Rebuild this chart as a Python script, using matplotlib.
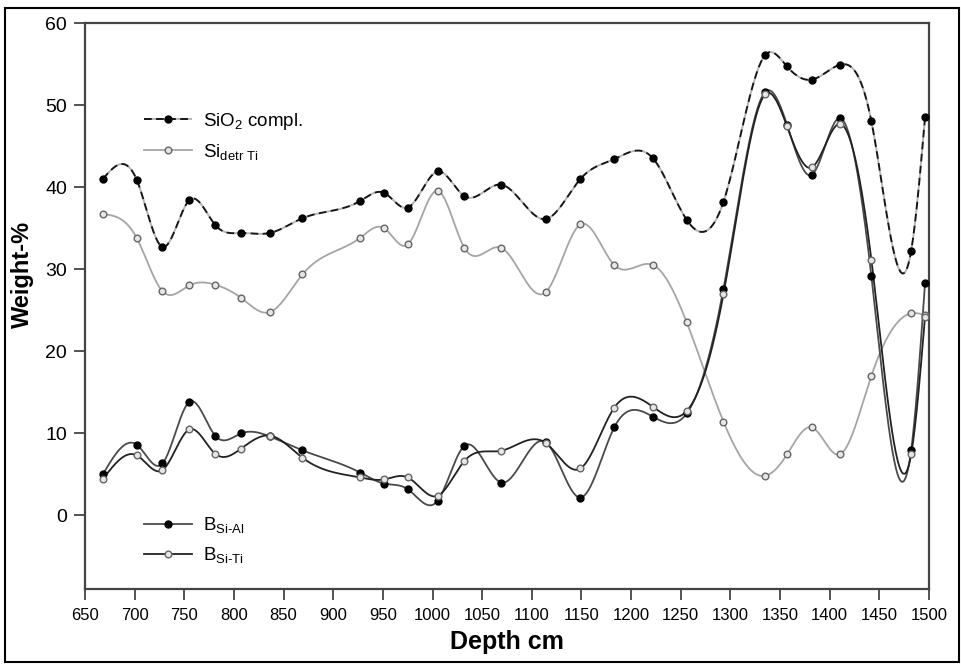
import numpy as np
import matplotlib
matplotlib.use('Agg')
import matplotlib.pyplot as plt
from matplotlib.lines import Line2D
from matplotlib.patches import Rectangle

plt.rcParams['font.family'] = ['Liberation Sans', 'DejaVu Sans']
plt.rcParams['mathtext.fontset'] = 'custom'
plt.rcParams['mathtext.rm'] = 'Liberation Sans'
plt.rcParams['mathtext.it'] = 'Liberation Sans:italic'
plt.rcParams['mathtext.bf'] = 'Liberation Sans:bold'

depth = [668, 702, 728, 755, 781, 807, 836, 869, 927, 951, 975, 1005, 1032, 1069,
         1114, 1149, 1183, 1222, 1256, 1293, 1335, 1357, 1382, 1410, 1442, 1482, 1496]
sio2_compl = [41.0, 40.9, 32.7, 38.4, 35.4, 34.4, 34.4, 36.2, 38.3, 39.3, 37.5, 41.9, 38.9, 40.3,
              36.1, 41.0, 43.4, 43.5, 36.0, 38.2, 56.1, 54.7, 53.1, 54.9, 48.0, 32.2, 48.5]
si_detr_ti = [36.7, 33.8, 27.3, 28.0, 28.1, 26.5, 24.75, 29.35, 33.8, 35.0, 33.0, 39.55, 32.6, 32.6,
              27.2, 35.45, 30.5, 30.5, 23.5, 11.4, 4.8, 7.4, 10.7, 7.4, 17.0, 24.6, 24.4]
b_si_al = [5.0, 8.6, 6.3, 13.8, 9.7, 9.96, 9.6, 7.9, 5.2, 3.86, 3.17, 1.75, 8.45, 3.98,
           8.9, 2.15, 10.7, 12.0, 12.4, 27.6, 51.6, 47.6, 41.5, 48.4, 29.1, 7.9, 28.3]
b_si_ti = [4.4, 7.3, 5.5, 10.45, 7.5, 8.1, 9.7, 7.0, 4.6, 4.35, 4.6, 2.35, 6.6, 7.85,
           8.8, 5.7, 13.1, 13.2, 12.7, 26.95, 51.3, 47.4, 42.4, 47.7, 31.1, 7.4, 24.2]

x_ticks = list(range(650, 1501, 50))
y_ticks = list(range(0, 61, 10))


def natural_spline(x, y, num=900):
    x = np.asarray(x, float)
    y = np.asarray(y, float)
    n = len(x)
    h = np.diff(x)
    A = np.zeros((n, n))
    r = np.zeros(n)
    A[0, 0] = A[-1, -1] = 1.0
    for i in range(1, n - 1):
        A[i, i - 1] = h[i - 1]
        A[i, i] = 2 * (h[i - 1] + h[i])
        A[i, i + 1] = h[i]
        r[i] = 6 * ((y[i + 1] - y[i]) / h[i] - (y[i] - y[i - 1]) / h[i - 1])
    m = np.linalg.solve(A, r)
    xs = np.linspace(x[0], x[-1], num)
    k = np.clip(np.searchsorted(x, xs) - 1, 0, n - 2)
    t0 = x[k + 1] - xs
    t1 = xs - x[k]
    hk = h[k]
    ys = ((m[k] * t0 ** 3 + m[k + 1] * t1 ** 3) / (6 * hk)
          + (y[k] / hk - m[k] * hk / 6) * t0
          + (y[k + 1] / hk - m[k + 1] * hk / 6) * t1)
    return xs, ys


fig = plt.figure(figsize=(9.62, 6.65), dpi=100)
ax = fig.add_axes([0.0884, 0.1143, 0.8773, 0.8511])

filled = dict(marker='o', markersize=5.0, markerfacecolor='black', markeredgecolor='black')
hollow = dict(marker='o', markersize=4.8, markerfacecolor='#e6e6e6', markeredgecolor='#666666',
              markeredgewidth=1.0)

styles = [
    (si_detr_ti, dict(color='#a5a5a5', lw=1.3), hollow, r'Si$_\text{detr Ti}$'),
    (sio2_compl, dict(color='#151515', lw=1.4, ls=(0, (4, 2.2)), gapcolor='#b5b5b5'), filled,
     r'SiO$_2$ compl.'),
    (b_si_al, dict(color='#4a4a4a', lw=1.3), filled, r'B$_\text{Si-Al}$'),
    (b_si_ti, dict(color='#222222', lw=1.3), hollow, r'B$_\text{Si-Ti}$'),
]

handles = {}
for values, line_kw, mark_kw, label in styles:
    xs, ys = natural_spline(depth, values)
    ax.plot(xs, ys, zorder=2, **line_kw)
    ax.plot(depth, values, ls='none', zorder=3, **mark_kw)
    handles[label] = Line2D([], [], **line_kw, **mark_kw)

ax.set_xlim(650, 1500)
ax.set_ylim(-9, 60)
ax.set_xticks(x_ticks)
ax.set_yticks(y_ticks)
ax.tick_params(axis='x', direction='out', length=8, width=1.3, color='#444444',
               labelsize=12, pad=6)
ax.tick_params(axis='y', direction='out', length=8, width=1.3, color='#444444',
               labelsize=14, pad=5)
for s in ax.spines.values():
    s.set_color('#444444')
    s.set_linewidth(1.6)

ax.set_xlabel('Depth cm', fontsize=18, fontweight='bold', labelpad=5)
ax.set_ylabel('Weight-%', fontsize=17, fontweight='bold')
ax.yaxis.set_label_coords(-0.061, 0.555)

leg_kw = dict(frameon=False, fontsize=13.5, handlelength=2.55, handletextpad=0.6,
              labelspacing=0.55, borderpad=0, borderaxespad=0, loc='center left')
top = ax.legend([handles[r'SiO$_2$ compl.'], handles[r'Si$_\text{detr Ti}$']],
                [r'SiO$_2$ compl.', r'Si$_\text{detr Ti}$'],
                bbox_to_anchor=(0.0698, 0.800), **leg_kw)
ax.add_artist(top)
ax.legend([handles[r'B$_\text{Si-Al}$'], handles[r'B$_\text{Si-Ti}$']],
          [r'B$_\text{Si-Al}$', r'B$_\text{Si-Ti}$'],
          bbox_to_anchor=(0.0698, 0.086), **leg_kw)

fig.add_artist(Rectangle((0.0052, 0.0045), 0.9917, 0.9835, transform=fig.transFigure,
                         fill=False, edgecolor='black', linewidth=1.5))

fig.savefig('out.png', dpi=100)
